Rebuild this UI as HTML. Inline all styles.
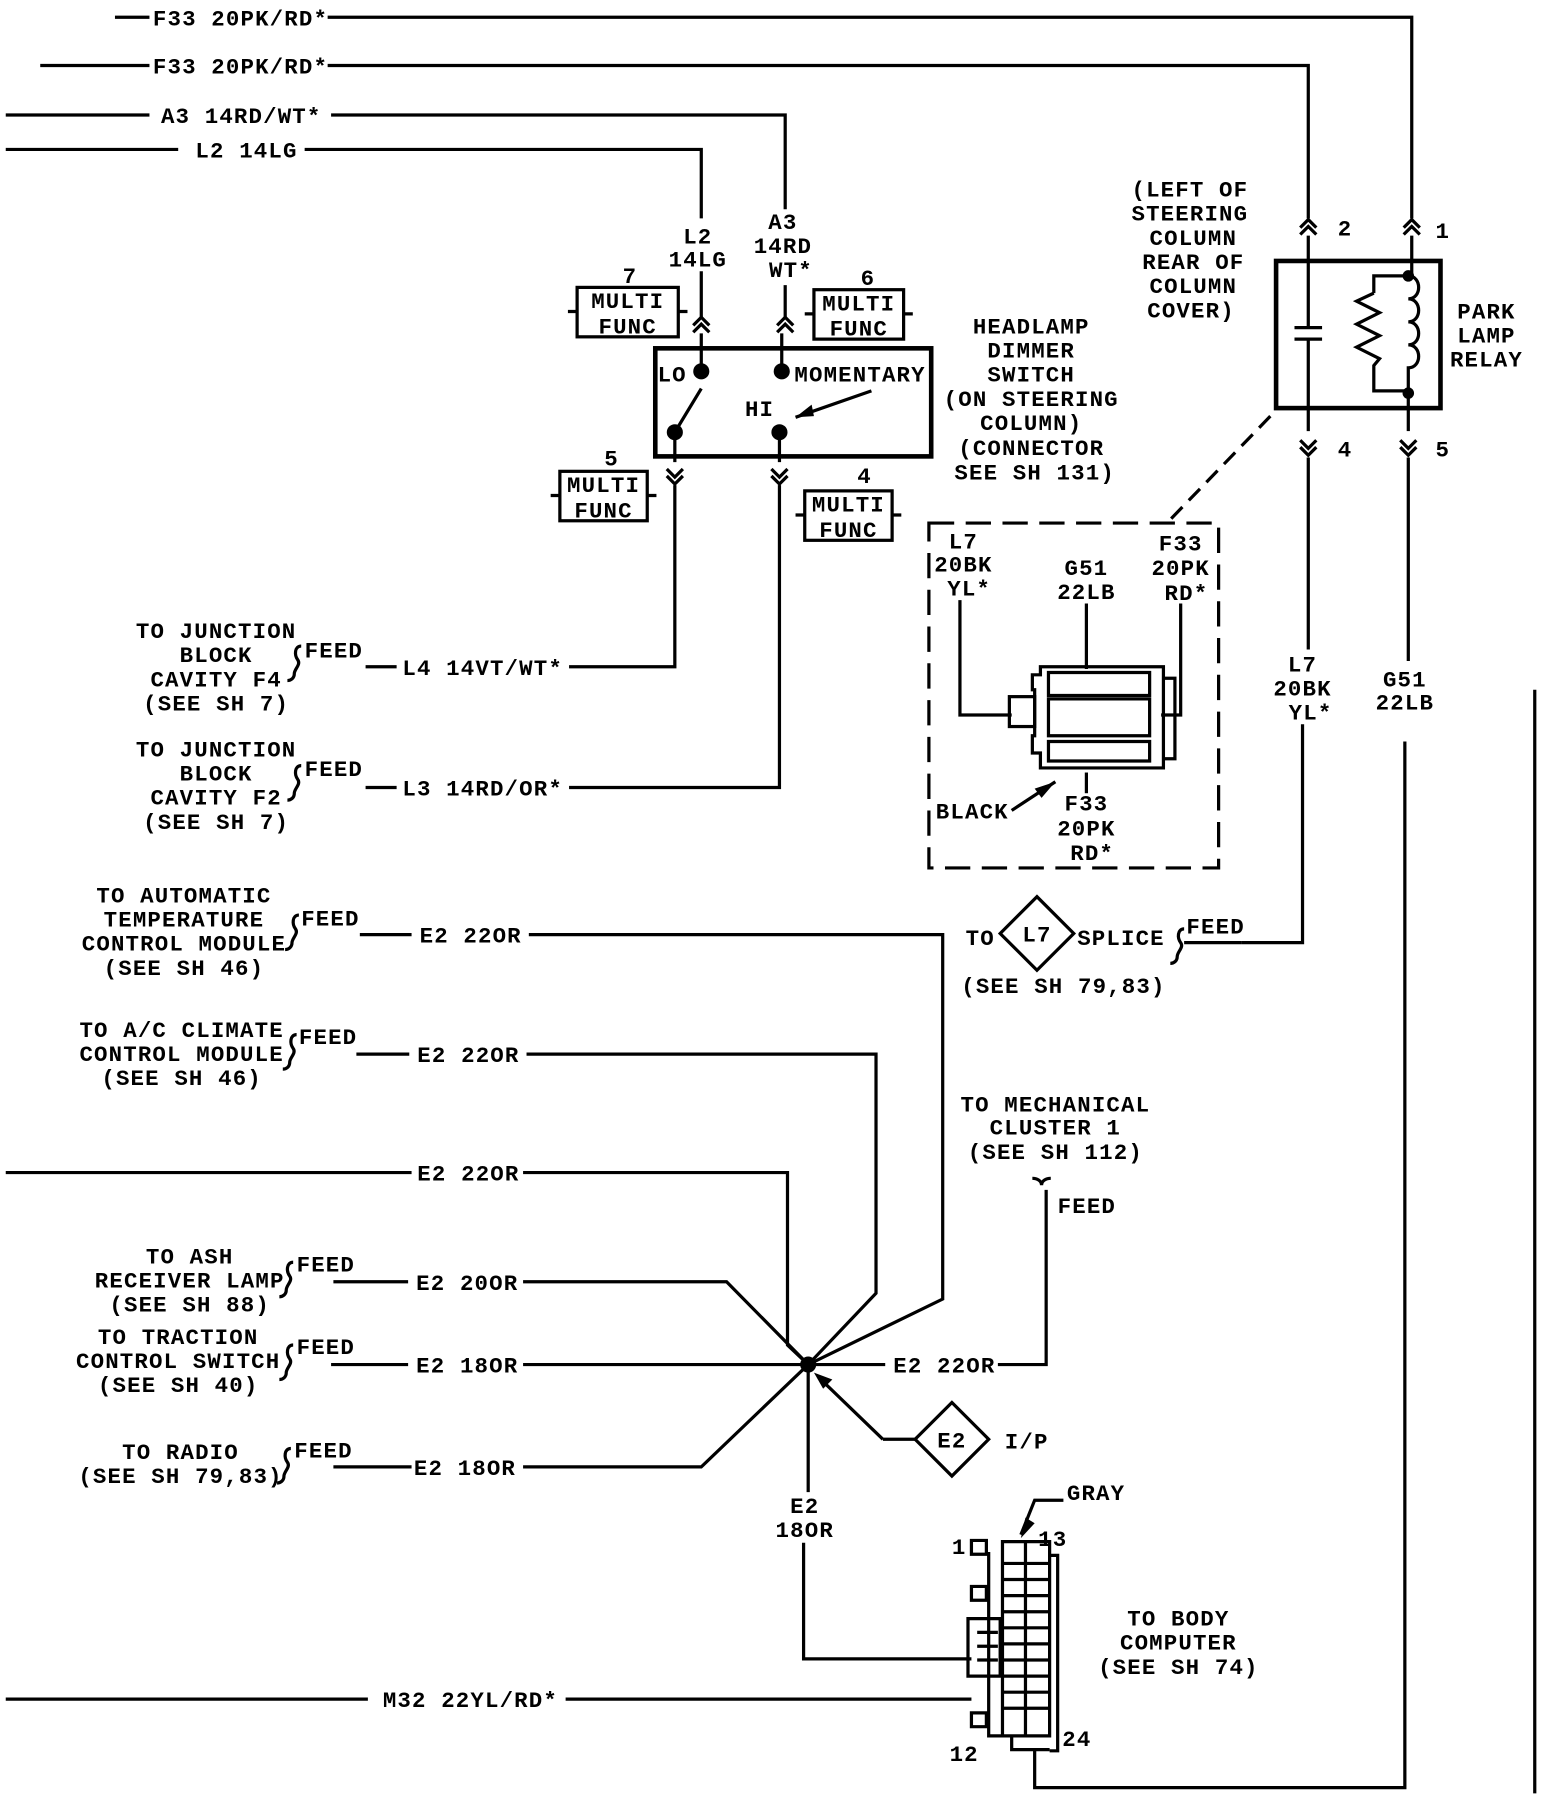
<!DOCTYPE html>
<html><head><meta charset="utf-8"><style>
html,body{margin:0;padding:0;background:#fff;}
svg{display:block;}
text{font-family:"Liberation Mono",monospace;font-weight:bold;font-size:19.5px;letter-spacing:1px;fill:#000;}
</style></head><body>
<svg width="1552" height="1806" viewBox="0 0 1350 1571" preserveAspectRatio="none" xmlns="http://www.w3.org/2000/svg">
<defs>
<g id="cu"><path d="M-7,6 L0,-1 L7,6 M-7,12 L0,5 L7,12" fill="none" stroke="#000" stroke-width="2.8"/></g>
<g id="cd"><path d="M-7,-6 L0,1 L7,-6 M-7,-12 L0,-5 L7,-12" fill="none" stroke="#000" stroke-width="2.8"/></g>
</defs>
<g fill="none" stroke="#000" stroke-width="2.8">
<path d="M100,15 H130 M285,15 H1228 V190"/>
<path d="M35,57 H130 M285,57 H1138 V190"/>
<path d="M5,100 H130 M288,100 H683 V182"/>
<path d="M5,130 H155 M265,130 H610 V190"/>
<path d="M610,236 V276 M683,248 V276"/>
<rect x="502" y="250" width="88" height="43"/><path d="M494,271 H502 M590,271 H598"/>
<rect x="708" y="252" width="78" height="43"/><path d="M700,273 H708 M786,273 H794"/>
<rect x="487" y="410" width="76" height="43"/><path d="M479,431 H487 M563,431 H571"/>
<rect x="700" y="427" width="76" height="43"/><path d="M692,448 H700 M776,448 H784"/>
<rect x="570" y="303" width="240" height="94" stroke-width="4"/>
<path d="M610,290 V323 M680,290 V323 M587,376 L610,338"/>
<path d="M587,376 V402 M678,376 V402"/>
<path d="M758,340 L692,363"/>
<path d="M587,422 V580 H495 M678,422 V685 H495"/>
<rect x="1110" y="227" width="143" height="128" stroke-width="4"/>
<path d="M1138,205 V285 M1126,285 H1150 M1126,295 H1150 M1138,295 V375"/>
<path d="M1228,205 V240 M1225,240 H1195 V255 M1195,255 L1180,262 L1200,272 L1180,282 L1200,292 L1180,302 L1200,312 L1195,318 V340 H1225"/>
<path d="M1225,240 c12,0 12,20 0,20 c12,0 12,20 0,20 c12,0 12,20 0,20 c12,0 12,20 0,20 V355"/>
<path d="M1225,355 V375"/>
<path d="M1138,398 V565 M1133,630 V820 H1080"/>
<path d="M1225,398 V575 M1222,645 V1555 H900 V1522"/>
<path d="M1105,362 L1015,455" stroke-dasharray="14,8"/>
<rect x="808" y="455" width="252" height="300" stroke-dasharray="22,10"/>
<path d="M835,522 V622 H880 M945,525 V582 M1027,525 V622 H1010"/>
<path d="M945,672 V690"/>
<path d="M880,705 L918,680"/>
<path d="M905,580 H1012 V668 H905 V655 H898 V640 H900 V600 H898 V587 H905 Z"/>
<rect x="878" y="606" width="22" height="26"/>
<path d="M912,585 H1000 V605 H912 Z M912,608 H1000 V640 H912 Z M912,645 H1000 V662 H912 Z"/>
<path d="M1012,590 H1022 V660 H1012"/>
<path d="M318,580 H345 M318,685 H345"/>
<path d="M313,813 H358 M460,813 H820 V1130 L703,1187"/>
<path d="M310,917 H356 M458,917 H762 V1125 L703,1187"/>
<path d="M5,1020 H358 M455,1020 H685 V1170 L703,1187"/>
<path d="M290,1115 H355 M455,1115 H632 L703,1187"/>
<path d="M288,1187 H355 M455,1187 H770"/>
<path d="M290,1276 H358 M455,1276 H610 L703,1187"/>
<path d="M868,1187 H910 V1035"/>
<path d="M703,1187 V1298 M699,1342 V1443 H845"/>
<path d="M768,1252 H797 M768,1252 L712,1198"/>
<path d="M5,1478 H320 M492,1478 H845"/>
<path d="M1080,820 H1030"/>
<path d="M1335,600 V1560"/>
<path d="M262,562 c-6,0 -6,8 -3,12 c3,4 -3,8 -3,12 c0,4 -3,6 -6,6" />
<path d="M262,666 c-6,0 -6,8 -3,12 c3,4 -3,8 -3,12 c0,4 -3,6 -6,6" />
<path d="M260,796 c-6,0 -6,8 -3,12 c3,4 -3,8 -3,12 c0,4 -3,6 -6,6" />
<path d="M258,900 c-6,0 -6,8 -3,12 c3,4 -3,8 -3,12 c0,4 -3,6 -6,6" />
<path d="M255,1098 c-6,0 -6,8 -3,12 c3,4 -3,8 -3,12 c0,4 -3,6 -6,6" />
<path d="M255,1170 c-6,0 -6,8 -3,12 c3,4 -3,8 -3,12 c0,4 -3,6 -6,6" />
<path d="M253,1260 c-6,0 -6,8 -3,12 c3,4 -3,8 -3,12 c0,4 -3,6 -6,6" />
<path d="M1030,808 c-6,0 -6,8 -3,12 c3,4 -3,8 -3,12 c0,4 -3,6 -6,6" />
<path d="M898,1025 c4,0 8,2 8,6 c0,-4 4,-6 8,-6"/>
<path d="M902,780 L934,812 L902,844 L870,812 Z"/>
<path d="M828,1220 L860,1252 L828,1284 L796,1252 Z"/>
<path d="M872,1341 H913 V1510 H872 Z M913,1353 H920 V1523 H913"/>
<path d="M892,1341 V1510 M872,1360 H913 M872,1374 H913 M872,1388 H913 M872,1402 H913 M872,1416 H913 M872,1430 H913 M872,1444 H913 M872,1458 H913 M872,1472 H913 M872,1486 H913"/>
<path d="M860,1350 V1510 H872 M845,1340 H858 V1352 H845 Z M845,1380 H858 V1392 H845 Z M845,1490 H858 V1502 H845 Z M842,1408 H870 V1458 H842 Z M850,1420 H868 M850,1432 H868 M850,1444 H868 M880,1510 V1522 H913"/>
<path d="M888,1335 L900,1305 H925"/>
</g>
<g fill="#000">
<circle cx="610" cy="323" r="7"/><circle cx="680" cy="323" r="7"/>
<circle cx="587" cy="376" r="7"/><circle cx="678" cy="376" r="7"/>
<circle cx="1225" cy="240" r="5"/><circle cx="1225" cy="342" r="5"/>
<circle cx="703" cy="1187" r="7"/>
<path d="M692,363 L706,352 L708,362 Z"/>
<path d="M708,1194 L724,1200 L716,1208 Z"/>
<path d="M918,680 L906,694 L900,686 Z"/>
<path d="M888,1338 L892,1320 L900,1325 Z"/>
</g>
<use href="#cu" x="610" y="277"/><use href="#cu" x="683" y="277"/>
<use href="#cd" x="587" y="420"/><use href="#cd" x="678" y="420"/>
<use href="#cu" x="1138" y="192"/><use href="#cu" x="1228" y="192"/>
<use href="#cd" x="1138" y="395"/><use href="#cd" x="1225" y="395"/>
<g>
<text x="133" y="22">F33 20PK/RD*</text>
<text x="133" y="64">F33 20PK/RD*</text>
<text x="140" y="107">A3 14RD/WT*</text>
<text x="170" y="137">L2 14LG</text>
</g>
<g text-anchor="middle">
<text x="607" y="212">L2</text><text x="607" y="232">14LG</text>
<text x="681" y="199">A3</text><text x="681" y="220">14RD</text><text x="688" y="241">WT*</text>
<text x="548" y="246">7</text><text x="755" y="248">6</text><text x="532" y="405">5</text><text x="752" y="420">4</text>
<text x="546" y="268" font-size="17">MULTI</text><text x="546" y="290" font-size="17">FUNC</text>
<text x="747" y="270" font-size="17">MULTI</text><text x="747" y="292" font-size="17">FUNC</text>
<text x="525" y="428" font-size="17">MULTI</text><text x="525" y="450" font-size="17">FUNC</text>
<text x="738" y="445" font-size="17">MULTI</text><text x="738" y="467" font-size="17">FUNC</text>
<text x="897" y="290">HEADLAMP</text><text x="897" y="311">DIMMER</text><text x="897" y="332">SWITCH</text>
<text x="897" y="353">(ON STEERING</text><text x="897" y="374">COLUMN)</text><text x="897" y="396">(CONNECTOR</text><text x="900" y="417">SEE SH 131)</text>
<text x="1035" y="171">(LEFT OF</text><text x="1035" y="192">STEERING</text><text x="1038" y="213">COLUMN</text><text x="1038" y="234">REAR OF</text><text x="1038" y="255">COLUMN</text><text x="1036" y="276">COVER)</text>
<text x="1293" y="277">PARK</text><text x="1293" y="298">LAMP</text><text x="1293" y="319">RELAY</text>
<text x="1133" y="584">L7</text><text x="1133" y="605">20BK</text><text x="1140" y="626">YL*</text>
<text x="1222" y="597">G51</text><text x="1222" y="617">22LB</text>
<text x="838" y="477">L7</text><text x="838" y="497">20BK</text><text x="843" y="518">YL*</text>
<text x="945" y="500">G51</text><text x="945" y="521">22LB</text>
<text x="1027" y="479">F33</text><text x="1027" y="500">20PK</text><text x="1032" y="522">RD*</text>
<text x="945" y="705">F33</text><text x="945" y="727">20PK</text><text x="950" y="748">RD*</text>
<text x="188" y="555">TO JUNCTION</text><text x="188" y="576">BLOCK</text><text x="188" y="597">CAVITY F4</text><text x="188" y="618">(SEE SH 7)</text>
<text x="188" y="658">TO JUNCTION</text><text x="188" y="679">BLOCK</text><text x="188" y="700">CAVITY F2</text><text x="188" y="721">(SEE SH 7)</text>
<text x="160" y="785">TO AUTOMATIC</text><text x="160" y="806">TEMPERATURE</text><text x="160" y="827">CONTROL MODULE</text><text x="160" y="848">(SEE SH 46)</text>
<text x="158" y="902">TO A/C CLIMATE</text><text x="158" y="923">CONTROL MODULE</text><text x="158" y="944">(SEE SH 46)</text>
<text x="165" y="1099">TO ASH</text><text x="165" y="1120">RECEIVER LAMP</text><text x="165" y="1141">(SEE SH 88)</text>
<text x="155" y="1169">TO TRACTION</text><text x="155" y="1190">CONTROL SWITCH</text><text x="155" y="1211">(SEE SH 40)</text>
<text x="157" y="1269">TO RADIO</text><text x="157" y="1290">(SEE SH 79,83)</text>
<text x="918" y="967">TO MECHANICAL</text><text x="918" y="987">CLUSTER 1</text><text x="918" y="1008">(SEE SH 112)</text>
<text x="700" y="1316">E2</text><text x="700" y="1337">18OR</text>
<text x="925" y="864">(SEE SH 79,83)</text>
<text x="1025" y="1414">TO BODY</text><text x="1025" y="1435">COMPUTER</text><text x="1025" y="1456">(SEE SH 74)</text>
<text x="1170" y="205">2</text><text x="1255" y="207">1</text><text x="1170" y="397">4</text><text x="1255" y="397">5</text>
<text x="902" y="819">L7</text><text x="828" y="1259">E2</text>
</g>
<g>
<text x="572" y="332">LO</text><text x="691" y="332">MOMENTARY</text><text x="648" y="362">HI</text>
<text x="265" y="572">FEED</text><text x="350" y="587">L4 14VT/WT*</text>
<text x="265" y="675">FEED</text><text x="350" y="692">L3 14RD/OR*</text>
<text x="262" y="805">FEED</text><text x="365" y="820">E2 22OR</text>
<text x="260" y="908">FEED</text><text x="363" y="924">E2 22OR</text>
<text x="363" y="1027">E2 22OR</text>
<text x="258" y="1106">FEED</text><text x="362" y="1122">E2 20OR</text>
<text x="258" y="1178">FEED</text><text x="362" y="1194">E2 18OR</text>
<text x="256" y="1268">FEED</text><text x="360" y="1283">E2 18OR</text>
<text x="777" y="1194">E2 22OR</text>
<text x="920" y="1055">FEED</text>
<text x="874" y="1260">I/P</text>
<text x="333" y="1485">M32 22YL/RD*</text>
<text x="840" y="822">TO</text><text x="937" y="822">SPLICE</text><text x="1032" y="812">FEED</text>
<text x="814" y="712">BLACK</text>
<text x="928" y="1305">GRAY</text>
<text x="828" y="1352">1</text><text x="903" y="1345">13</text><text x="826" y="1532">12</text><text x="924" y="1519">24</text>
</g>
</svg>
</body></html>
